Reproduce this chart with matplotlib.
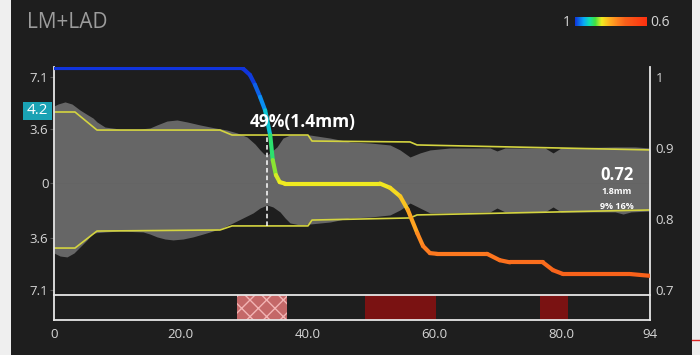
import numpy as np
import matplotlib
matplotlib.use("Agg")
import matplotlib.pyplot as plt
from matplotlib.collections import LineCollection
from matplotlib.colors import LinearSegmentedColormap, Normalize
from matplotlib.patches import Rectangle
from matplotlib.lines import Line2D

plt.rcParams['font.family'] = ['Open Sans', 'DejaVu Sans']
plt.rcParams['hatch.linewidth'] = 1.0

# vessel silhouette (mm from centreline) along the pullback
upper_pos = [0, 0.63, 1.74, 2.84, 4.10, 5.36, 6.15, 6.78, 8.04, 10.41, 13.56, 15.14, 16.25, 17.82,
             19.40, 20.98, 23.03, 25.39, 27.29, 28.86, 30.44, 31.70, 32.49, 33.12, 33.60, 34.23,
             35.17, 36.12, 37.22, 40.38, 43.53, 46.69, 49.84, 53.00, 54.57, 56.15, 57.73, 59.31,
             62.46, 68.77, 69.87, 71.14, 77.44, 78.71, 79.97, 88.49, 89.75, 91.64, 94.0]
upper_edge = [5.15, 5.28, 5.42, 5.28, 4.88, 4.55, 4.35, 4.09, 3.75, 3.62, 3.62, 3.69, 3.89, 4.15,
              4.22, 4.09, 3.89, 3.69, 3.55, 3.36, 3.09, 2.62, 2.23, 1.96, 1.89, 2.09,
              2.43, 3.02, 3.22, 3.22, 3.02, 2.76, 2.69, 2.56, 2.23, 1.76, 2.03, 2.23,
              2.36, 2.36, 2.16, 2.36, 2.36, 2.03, 2.36, 2.43, 2.43, 2.43, 2.36]
lower_pos = [0, 0.95, 2.05, 3.15, 4.10, 5.21, 6.15, 8.04, 10.41, 14.04, 15.14, 16.25, 17.51, 18.77,
             20.35, 21.92, 23.50, 24.61, 26.50, 28.23, 29.81, 31.39, 32.49, 33.60, 34.54, 35.65,
             36.44, 37.22, 38.80, 43.53, 46.69, 49.84, 53.00, 54.57, 56.15, 57.73, 59.31, 62.46,
             68.77, 69.87, 71.14, 77.44, 78.71, 79.97, 88.49, 89.75, 91.01, 94.0]
lower_edge = [-4.62, -4.82, -4.88, -4.62, -4.22, -3.75, -3.29, -3.22, -3.16, -3.22, -3.36, -3.55, -3.69, -3.75,
              -3.69, -3.55, -3.36, -3.22, -2.96, -2.62, -2.29, -1.96, -1.63, -1.43, -1.56, -1.89,
              -2.29, -2.62, -2.76, -2.56, -2.29, -2.23, -2.09, -1.76, -1.30, -1.63, -1.96, -1.96,
              -1.89, -1.63, -1.89, -1.89, -1.56, -1.89, -1.89, -2.03, -1.89, -1.83]

# reference diameter lines
ref_pos = [0, 3.31, 6.78, 26.18, 28.08, 40.06, 40.69, 56.15, 57.26, 94.0]
ref_upper = [4.75, 4.75, 3.55, 3.55, 3.22, 3.22, 2.82, 2.76, 2.56, 2.23]
ref_lower = [-4.29, -4.29, -3.16, -3.09, -2.82, -2.82, -2.43, -2.29, -2.09, -1.76]

# FFR pullback curve
ffr_pos = [0, 29.3, 29.8, 30.9, 31.7, 32.5, 33.3, 34.1, 34.5, 35.0, 35.6, 36.4, 51.4, 53.0,
           54.6, 55.8, 57.3, 58.2, 59.3, 60.4, 68.3, 70.3, 71.9, 77.1, 78.7, 80.3, 90.9, 94.0]
ffr_val = [1.013, 1.013, 1.012, 1.003, 0.989, 0.972, 0.953, 0.918, 0.883, 0.862, 0.852, 0.850, 0.850, 0.844,
           0.832, 0.813, 0.780, 0.762, 0.752, 0.751, 0.751, 0.742, 0.739, 0.739, 0.728, 0.7225, 0.7225, 0.72]

# lesion segments on the bottom strip
lesion_start = [28.9, 49.1, 76.7]
lesion_end = [36.8, 60.3, 81.1]
lesion_hatched = [True, False, False]

mld_pos = 33.6
ffr_final = 0.72

left_ticks = [7.1, 3.6, 0, -3.6, -7.1]
left_labels = ['7.1', '3.6', '0', '3.6', '7.1']
right_ticks = [1, 0.9, 0.8, 0.7]
right_labels = ['1', '0.9', '0.8', '0.7']
x_ticks = [0, 20, 40, 60, 80, 94]
x_labels = ['0', '20.0', '40.0', '60.0', '80.0', '94']

W, H = 700, 355
bg = '#1e1e1e'
line_c = '#e6e6e6'
tick_c = '#d6d6d6'

# 0 -> FFR 1.0 (blue), 1 -> FFR 0.6 (red)
ffr_cmap = LinearSegmentedColormap.from_list('ffr', [
    (0.0, '#1034dc'), (0.12, '#08a8f8'), (0.2, '#10e0b0'), (0.28, '#40e040'),
    (0.37, '#f0ec20'), (0.48, '#ffb020'), (0.6, '#ff8020'), (0.7, '#f8601a'), (1.0, '#ff3010')])


def fig_rect(px, py, w, h):
    return [px / W, 1 - (py + h) / H, w / W, h / H]


fig = plt.figure(figsize=(W / 100, H / 100), dpi=100, facecolor='#efefef')
fig.patches.append(Rectangle((11 / W, 0), 681 / W, 1, transform=fig.transFigure,
                             facecolor=bg, edgecolor='none', zorder=-10))
fig.lines.append(Line2D([692 / W, 1], [1 - 340 / H] * 2, transform=fig.transFigure,
                        color='#e02828', lw=1))

fig.text(27 / W, 1 - 23 / H, 'LM+LAD', color='#9c9c9c', fontsize=15, va='center')

# main plot
ax = fig.add_axes(fig_rect(54, 67, 596, 228))
ax.set_facecolor('none')
ax.set_xlim(0, 94)
ax.set_ylim(-7.41, 7.74)
ax.fill_between(upper_pos, upper_edge, 0, color='#666666', lw=0)
ax.fill_between(lower_pos, lower_edge, 0, color='#666666', lw=0)
ax.plot(ref_pos, ref_upper, color='#d4d440', lw=1.2)
ax.plot(ref_pos, ref_lower, color='#d4d440', lw=1.2)
ax.plot([mld_pos, mld_pos], [np.interp(mld_pos, ref_pos, ref_lower), np.interp(mld_pos, ref_pos, ref_upper)],
        color='white', lw=1.1, ls=(0, (3, 2)))

ax.set_yticks(left_ticks)
ax.set_yticklabels(left_labels)
ax.set_xticks([])
ax.tick_params(axis='y', colors='#555555', labelcolor=tick_c, length=3, width=0.8, pad=1, labelsize=9.5)
for s in ['top', 'bottom']:
    ax.spines[s].set_visible(False)
for s in ['left', 'right']:
    ax.spines[s].set_color(line_c)
    ax.spines[s].set_linewidth(1.3)

ax2 = ax.twinx()
ax2.set_ylim(0.6930, 1.0141)
pts = np.column_stack([ffr_pos, ffr_val])
segs = np.stack([pts[:-1], pts[1:]], axis=1)
seg_val = (np.array(ffr_val[:-1]) + np.array(ffr_val[1:])) / 2
lc = LineCollection(segs, cmap=ffr_cmap.reversed(), norm=Normalize(0.6, 1.0), linewidths=3, capstyle='round')
lc.set_array(seg_val)
ax2.add_collection(lc)
ax2.set_yticks(right_ticks)
ax2.set_yticklabels(right_labels)
ax2.tick_params(axis='y', length=0, labelcolor=tick_c, pad=4, labelsize=9.5)
for s in ax2.spines.values():
    s.set_visible(False)

# annotations drawn over the curve
ax2.text(39.3, 4.09, '49%(1.4mm)', transform=ax.transData, color='white', fontsize=12.5,
         fontweight='bold', ha='center', va='center', zorder=5)
ax2.text(88.8, 0.56, f'{ffr_final:.2f}', transform=ax.transData, color='white', fontsize=12,
         fontweight='bold', ha='center', va='center', zorder=5)
ax2.text(88.8, -0.56, '1.8mm', transform=ax.transData, color='white', fontsize=6.5,
         fontweight='bold', ha='center', va='center', zorder=5)
ax2.text(88.8, -1.50, '9% 16%', transform=ax.transData, color='white', fontsize=6.5,
         fontweight='bold', ha='center', va='center', zorder=5)

# lesion strip
axs = fig.add_axes(fig_rect(54, 295, 596, 25))
axs.set_facecolor('none')
axs.set_xlim(0, 94)
axs.set_ylim(0, 1)
for a, b, h in zip(lesion_start, lesion_end, lesion_hatched):
    if h:
        axs.add_patch(Rectangle((a, 0), b - a, 1, facecolor='#c46868', edgecolor='#f2b4b4',
                                hatch='xx', lw=0))
    else:
        axs.add_patch(Rectangle((a, 0), b - a, 1, facecolor='#7a1212', edgecolor='none'))
axs.set_yticks([])
axs.set_xticks(x_ticks)
axs.set_xticklabels(x_labels)
axs.tick_params(axis='x', length=0, labelcolor=tick_c, pad=6, labelsize=9.5)
for s in axs.spines.values():
    s.set_color(line_c)
    s.set_linewidth(1.3)

# 4.2 marker on the left axis
fig.patches.append(Rectangle((23 / W, 1 - 120 / H), 29 / W, 18 / H, transform=fig.transFigure,
                             facecolor='#1aa2b4', edgecolor='none', zorder=5))
fig.text(37.5 / W, 1 - 111 / H, '4.2', color='white', fontsize=11, ha='center', va='center', zorder=6)

# colour scale
axc = fig.add_axes(fig_rect(575, 17, 72, 9))
axc.imshow(np.linspace(0, 1, 256)[None, :], aspect='auto', cmap=ffr_cmap)
axc.axis('off')
fig.text(571 / W, 1 - 22 / H, '1', color=tick_c, fontsize=10, ha='right', va='center')
fig.text(650 / W, 1 - 22 / H, '0.6', color=tick_c, fontsize=10, ha='left', va='center')

fig.savefig('out.png', dpi=100, facecolor=fig.get_facecolor())
